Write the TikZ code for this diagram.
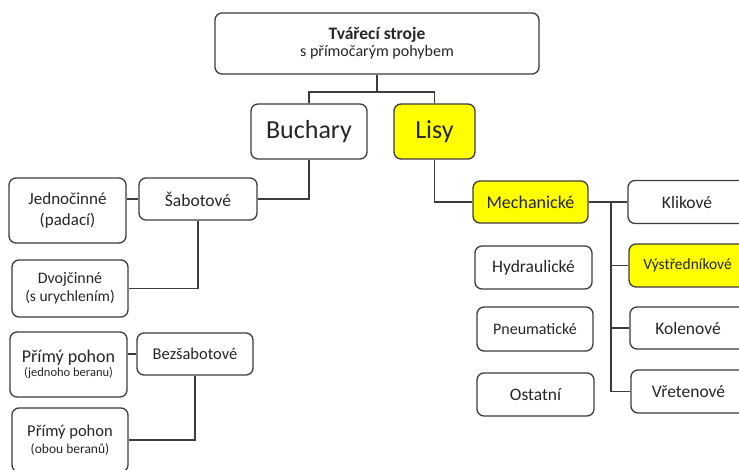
\documentclass[tikz,border=0pt]{standalone}
\usepackage{fontspec}
\setmainfont{Carlito}
\usepackage{tikz}
\definecolor{rimgray}{HTML}{3C3C3C}
\definecolor{hotyellow}{HTML}{FFFF00}

\begin{document}
\begin{tikzpicture}[x=1pt, y=-1pt,
    box/.style={draw=rimgray, line width=1.3pt, rounded corners=7pt, fill=white,
                inner sep=0pt, align=center, text=black!85},
    hot/.style={box, fill=hotyellow},
    sz/.style 2 args={minimum width=#1pt, minimum height=#2pt},
    link/.style={draw=rimgray, line width=1.2pt}]

                \useasboundingbox (0,0) rectangle (739,470);
                \clip (0,0) rectangle (739,470);

                % Top
                \node at (377,43.5) (top) [box, sz={324}{61}] {{\fontsize{17.5}{20}\selectfont\bfseries Tvářecí stroje}\\[2pt]{\fontsize{16}{18}\selectfont s přímočarým pohybem}};
                \node at (309,131.5) (buchary) [box, sz={116}{55}, font=\fontsize{26}{29}\selectfont] {Buchary};
                \node at (434.5,131.5) (lisy) [hot, sz={81}{55}, font=\fontsize{26}{29}\selectfont] {Lisy};

                % Buchary branch
                \node at (198,199) (sabot) [box, sz={118}{42}, font=\fontsize{17.5}{20}\selectfont] {Šabotové};
                \node at (67.5,210.5) (jedno) [box, sz={117}{65}, font=\fontsize{17}{21}\selectfont] {Jednočinné\\(padací)};
                \node at (70,288.5) (dvoj) [box, sz={116}{57}] {{\fontsize{16}{18}\selectfont Dvojčinné}\\[3pt]{\fontsize{15.5}{16}\selectfont (s urychlením)}};
                \node at (195,354) (bezsab) [box, sz={116}{42}, font=\fontsize{16.5}{19}\selectfont] {Bezšabotové};
                \node at (68.5,364.5) (primA) [box, sz={117}{65}] {{\fontsize{18}{20}\selectfont Přímý pohon}\\[1pt]{\fontsize{12.5}{14}\selectfont (jednoho beranu)}};
                \node at (70,440) (primB) [box, sz={116}{64}] {{\fontsize{16.5}{19}\selectfont Přímý pohon}\\[4pt]{\fontsize{13.5}{16}\selectfont (obou beranů)}};

                % Lisy branch
                \node at (530.5,202) (mech) [hot, sz={115}{42}, font=\fontsize{18}{20}\selectfont] {Mechanické};
                \node at (533.5,267.5) (hydr) [box, sz={117}{43}, font=\fontsize{17.5}{20}\selectfont] {Hydraulické};
                \node at (535,329) (pneu) [box, sz={116}{44}, font=\fontsize{16}{18}\selectfont] {Pneumatické};
                \node at (535.5,394.5) (ostat) [box, sz={117}{43}, font=\fontsize{17.5}{20}\selectfont] {Ostatní};
                \node at (687,202) (klik) [box, sz={118}{43}, font=\fontsize{17.5}{20}\selectfont] {Klikové};
                \node at (687.5,265.5) (vystr) [hot, sz={117}{43}, font=\fontsize{15.5}{18}\selectfont] {Výstředníkové};
                \node at (688,328) (kolen) [box, sz={116}{42}, font=\fontsize{17.5}{20}\selectfont] {Kolenové};
                \node at (688.5,391.5) (vret) [box, sz={115}{43}, font=\fontsize{17.5}{20}\selectfont] {Vřetenové};

                % Lines
                \coordinate (fork) at (377,92);
                \coordinate (bus) at (611,202);
                \draw[link] (top) -- (fork);
                \draw[link] (buchary.north) |- (fork) -| (lisy.north);
                \draw[link] (buchary.south) |- (sabot.east);
                \draw[link] (sabot.west) -- (sabot.west -| jedno.east);
                \draw[link] (sabot.south) |- (dvoj.east);
                \draw[link] (bezsab.west) -- (bezsab.west -| primA.east);
                \draw[link] (bezsab.south) |- (primB.east);
                \draw[link] (lisy.south) |- (mech.west);
                \draw[link] (mech.east) -- (klik.west);
                \draw[link] (bus) -- (bus |- vret.west);
                \foreach \n in {vystr, kolen, vret}
                    \draw[link] (bus |- \n.west) -- (\n.west);

\end{tikzpicture}
\end{document}
